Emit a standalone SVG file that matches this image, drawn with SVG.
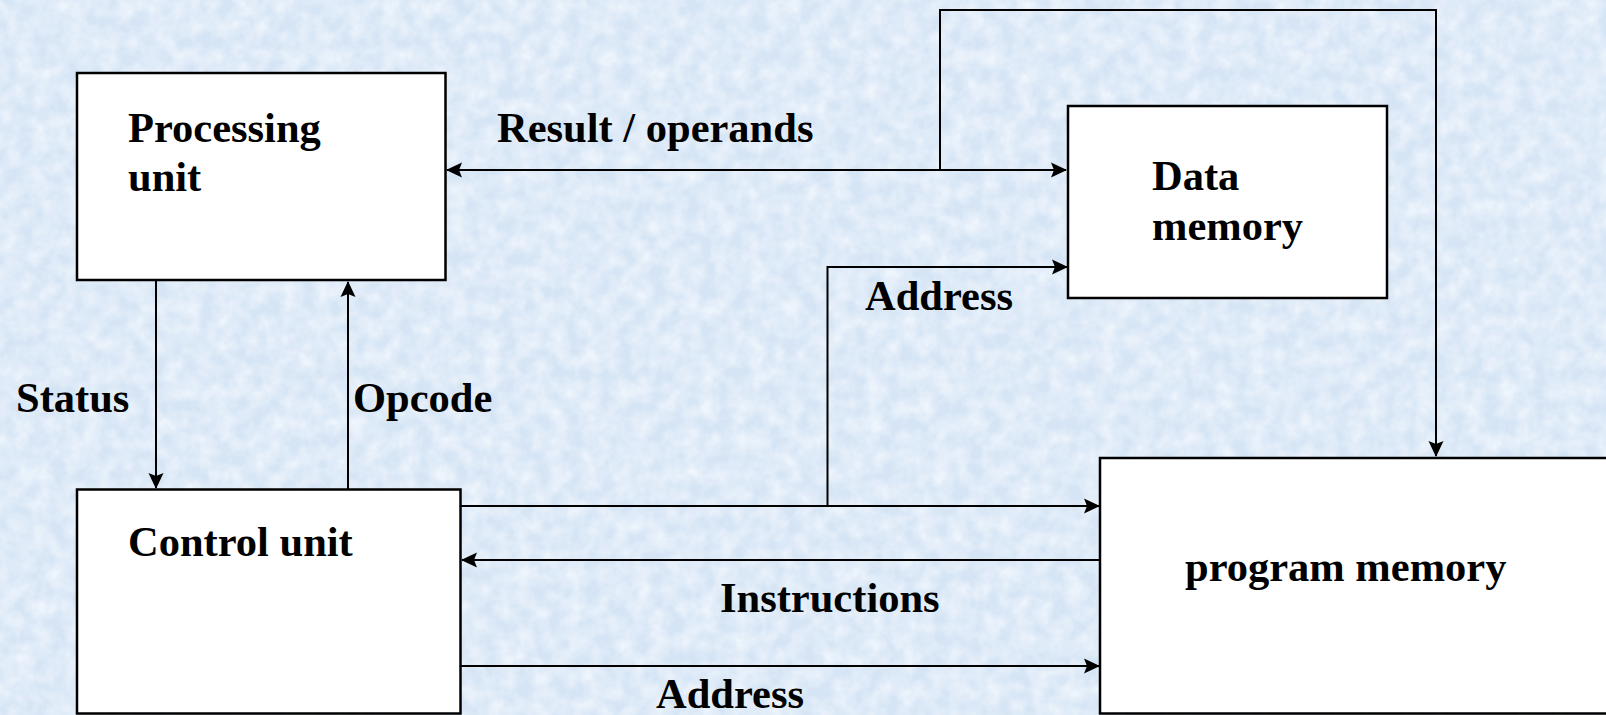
<svg xmlns="http://www.w3.org/2000/svg" width="1606" height="715" viewBox="0 0 1606 715">
<style>
.box{fill:#ffffff;stroke:#000000;stroke-width:2.5}
.lbl{font-family:"Liberation Serif","Times New Roman",serif;font-weight:bold;font-size:42.5px;fill:#000000}
.wire{fill:none;stroke:#000000;stroke-width:2}
</style>
<defs>
<marker id="arr" viewBox="0 0 16 16" refX="15" refY="8" markerWidth="16" markerHeight="16" markerUnits="userSpaceOnUse" orient="auto-start-reverse">
<path d="M0,0.5 L16,8 L0,15.5 L3,8 Z" fill="#000000"/>
</marker>
<filter id="tex" x="0" y="0" width="100%" height="100%">
<feTurbulence type="fractalNoise" baseFrequency="0.06" numOctaves="3" seed="7" result="n"/>
<feColorMatrix in="n" type="matrix" values="0 0 0 0 0.90  0 0 0 0 0.94  0 0 0 0 0.99  0 0 0 -1.4 1.0"/>
</filter>
</defs>
<rect id="background" x="0" y="0" width="1606" height="715" fill="#d6e5f5"/>
<rect x="0" y="0" width="1606" height="715" filter="url(#tex)"/>

<g id="connectors">
<path class="wire" d="M447,170 H1066" marker-start="url(#arr)" marker-end="url(#arr)"/>
<path class="wire" d="M940,170 V10 H1436 V456" marker-end="url(#arr)"/>
<path class="wire" d="M156,281 V488" marker-end="url(#arr)"/>
<path class="wire" d="M348,489 V282" marker-end="url(#arr)"/>
<path class="wire" d="M461,506 H1099" marker-end="url(#arr)"/>
<path class="wire" d="M827.5,506 V267 H1067" marker-end="url(#arr)"/>
<path class="wire" d="M1100,560 H462" marker-end="url(#arr)"/>
<path class="wire" d="M461,666 H1099" marker-end="url(#arr)"/>
</g>

<g id="processing-unit">
<rect class="box" x="77" y="73" width="368.5" height="207"/>
<text class="lbl" x="128" y="142">Processing</text>
<text class="lbl" x="128" y="191">unit</text>
</g>

<g id="data-memory">
<rect class="box" x="1068" y="106" width="319" height="192"/>
<text class="lbl" x="1152" y="190">Data</text>
<text class="lbl" x="1152" y="240">memory</text>
</g>

<g id="control-unit">
<rect class="box" x="77" y="489.5" width="383.5" height="224"/>
<text class="lbl" x="128" y="556">Control unit</text>
</g>

<g id="program-memory">
<rect class="box" x="1100" y="458" width="520" height="255.5"/>
<text class="lbl" x="1185" y="581">program memory</text>
</g>

<g id="labels">
<text class="lbl" x="497" y="142">Result / operands</text>
<text class="lbl" x="865" y="310">Address</text>
<text class="lbl" x="16" y="412">Status</text>
<text class="lbl" x="353" y="412">Opcode</text>
<text class="lbl" x="720" y="612">Instructions</text>
<text class="lbl" x="656" y="708">Address</text>
</g>
</svg>
